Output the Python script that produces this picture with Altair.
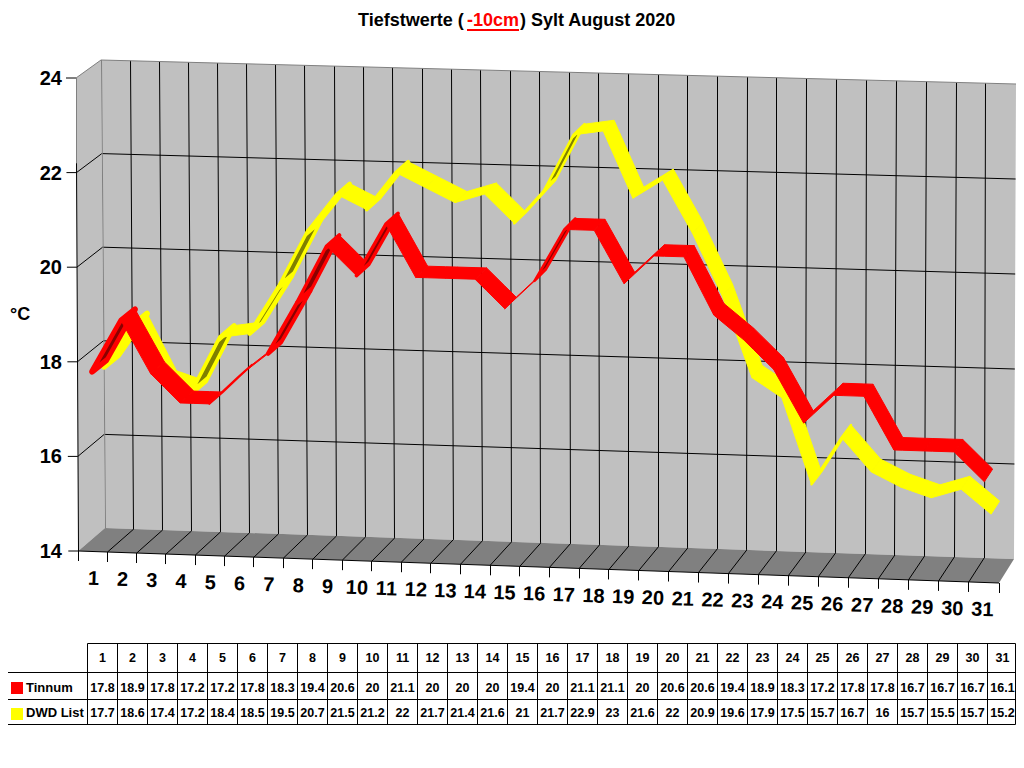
import altair as alt
import pandas as pd
import math

days = list(range(1, 32))
tinnum = [17.8, 18.9, 17.8, 17.2, 17.2, 17.8, 18.3, 19.4, 20.6, 20, 21.1, 20, 20, 20, 19.4, 20,
          21.1, 21.1, 20, 20.6, 20.6, 19.4, 18.9, 18.3, 17.2, 17.8, 17.8, 16.7, 16.7, 16.7, 16.1]
dwd = [17.7, 18.6, 17.4, 17.2, 18.4, 18.5, 19.5, 20.7, 21.5, 21.2, 22, 21.7, 21.4, 21.6, 21, 21.7,
       22.9, 23, 21.6, 22, 20.9, 19.6, 17.9, 17.5, 15.7, 16.7, 16, 15.7, 15.5, 15.7, 15.2]
tinnum_txt = ["17.8", "18.9", "17.8", "17.2", "17.2", "17.8", "18.3", "19.4", "20.6", "20", "21.1", "20", "20", "20",
              "19.4", "20", "21.1", "21.1", "20", "20.6", "20.6", "19.4", "18.9", "18.3", "17.2", "17.8", "17.8",
              "16.7", "16.7", "16.7", "16.1"]
dwd_txt = ["17.7", "18.6", "17.4", "17.2", "18.4", "18.5", "19.5", "20.7", "21.5", "21.2", "22", "21.7", "21.4", "21.6",
           "21", "21.7", "22.9", "23", "21.6", "22", "20.9", "19.6", "17.9", "17.5", "15.7", "16.7", "16", "15.7",
           "15.5", "15.7", "15.2"]
y_ticks = [14, 16, 18, 20, 22, 24]
FONT = "Liberation Sans"

# 3D box corners on the page: (x, y) keyed by (right, top, back)
C = {(0, 0, 0): (78.3, 551), (1, 0, 0): (999, 583), (0, 1, 0): (76, 78), (1, 1, 0): (1001, 103),
     (0, 0, 1): (105, 528), (1, 0, 1): (1014, 559), (0, 1, 1): (101, 60), (1, 1, 1): (1016, 84)}


def proj(u, temp, d):
    s = u / 31
    s = s - 0.0174 * s * (1 - s)
    v = (temp - 14) / 10
    x = y = 0.0
    for (a, b, c), (px, py) in C.items():
        w = (s if a else 1 - s) * (v if b else 1 - v) * (d if c else 1 - d)
        x += w * px
        y += w * py
    return x, y


def hull(pts):
    pts = sorted(set(pts))
    def half(seq):
        out = []
        for p in seq:
            while len(out) > 1 and ((out[-1][0] - out[-2][0]) * (p[1] - out[-2][1])
                                    - (out[-1][1] - out[-2][1]) * (p[0] - out[-2][0])) <= 0:
                out.pop()
            out.append(p)
        return out[:-1]
    return half(pts) + half(pts[::-1])


poly_rows = []
poly_id = [0]


def add_poly(layer, pts, fill, stroke=None, sw=0.0):
    """Turn a convex polygon into vertical sections so an area mark can draw it."""
    pts = hull(pts)
    n = len(pts)
    xs = sorted({p[0] for p in pts})
    poly_id[0] += 1
    for x in xs:
        ys = []
        for i in range(n):
            (x0, y0), (x1, y1) = pts[i], pts[(i + 1) % n]
            if min(x0, x1) <= x <= max(x0, x1):
                if x0 == x1:
                    ys += [y0, y1]
                else:
                    ys.append(y0 + (y1 - y0) * (x - x0) / (x1 - x0))
        poly_rows.append(dict(layer=layer, id=poly_id[0], px=x, py=min(ys), py2=max(ys), fill=fill,
                              stroke=stroke or fill, sw=sw))


add_poly("wall", [proj(0, 14, 1), proj(31, 14, 1), proj(31, 24, 1), proj(0, 24, 1)], "#C0C0C0")
add_poly("wall", [proj(0, 14, 0), proj(0, 14, 1), proj(0, 24, 1), proj(0, 24, 0)], "#C0C0C0")
add_poly("wall", [proj(0, 14, 0), proj(31, 14, 0), proj(31, 14, 1), proj(0, 14, 1)], "#808080")


def ribbon(values, d0, d1, bright, dark):
    for i in range(30):
        u0, u1 = i + 0.5, i + 1.5
        t0, t1 = values[i], values[i + 1]
        a0, b0 = proj(u0, t0, d0), proj(u1, t1, d0)
        a1, b1 = proj(u0, t0, d1), proj(u1, t1, d1)
        sx, sy = b0[0] - a0[0], b0[1] - a0[1]
        ox, oy = a1[0] - a0[0], a1[1] - a0[1]
        cross = sx * oy - sy * ox
        perp = abs(cross) / math.hypot(sx, sy)
        if cross > 0:
            sw = min(max(2.5, 6 - u0 * 0.25), 1 + perp * 1.5)
            add_poly("ribbon", [a0, b0, a1, b1], bright, bright, sw)
            chord = cross / abs(sy)
            target = (t1 - t0 - 0.95) * (26 - u0) * 0.9
            if target > 0.4:
                f = min(1.0, max(target, 1.0) / chord)
                dm = (d0 + d1) / 2
                dh = (d1 - d0) * f / 2
                ua, ub = u0 + 0.12, u1 - 0.12
                ta, tb = t0 + (t1 - t0) * 0.12, t1 - (t1 - t0) * 0.12
                add_poly("ribbon", [proj(ua, ta, dm - dh), proj(ub, tb, dm - dh),
                                    proj(ua, ta, dm + dh), proj(ub, tb, dm + dh)], dark, dark, 0)
        else:
            add_poly("ribbon", [a0, b0, a1, b1], bright, bright, 1)


ribbon(dwd, 0.46, 1.02, "#FFFF00", "#808000")
ribbon(tinnum, 0.0, 0.55, "#FF0000", "#8B0000")

line_rows = []
lid = [0]


def add_line(p0, p1, color="#000000"):
    lid[0] += 1
    line_rows.append(dict(id=lid[0], seq=0, px=p0[0], py=p0[1], color=color))
    line_rows.append(dict(id=lid[0], seq=1, px=p1[0], py=p1[1], color=color))


def sharp(p):
    return (int(p[0]) + 0.5, p[1])


for u in range(1, 31):
    add_line(sharp(proj(u, 14, 1)), sharp(proj(u, 24, 1)))
    add_line(proj(u, 14, 0), proj(u, 14, 1))
for t in y_ticks[1:-1]:
    add_line(proj(0, t, 1), proj(31, t, 1))
    add_line(proj(0, t, 0), proj(0, t, 1))
add_line(proj(0, 14, 0), proj(31, 14, 0))
add_line(sharp(proj(0, 14, 0)), sharp(proj(0, 22.2, 0)))
add_line(sharp(proj(0, 22.2, 0)), sharp(proj(0, 24, 0)), "#808080")
add_line(sharp(proj(0, 14, 1)), sharp(proj(0, 24, 1)), "#808080")
add_line(proj(0, 24, 1), proj(31, 24, 1), "#808080")
add_line(proj(0, 24, 0), proj(0, 24, 1), "#808080")
# axis ticks
for t in y_ticks:
    x, y = proj(0, t, 0)
    add_line((x - 10, y), (x, y))
for u in range(0, 32):
    x, y = sharp(proj(u, 14, 0))
    add_line((x, y), (x, y + 10))

# table geometry
T_L, T_LBL, T_R = 87.5, 7.5, 1017.5
T_Y = [643.5, 672.5, 699.5, 724.5]
col = (T_R - T_L) / 31
T_END = 1015.5
add_line((T_L, T_Y[0]), (T_END, T_Y[0]))
add_line((T_LBL, T_Y[1]), (T_END, T_Y[1]))
add_line((T_LBL, T_Y[2]), (T_END, T_Y[2]))
add_line((T_LBL, T_Y[3]), (T_END, T_Y[3]))
add_line((T_LBL, T_Y[1]), (T_LBL, T_Y[3]))
for i in range(32):
    x = min(int(T_L + col * i) + 0.5, T_END)
    add_line((x, T_Y[0]), (x, T_Y[3]))

big_text = []
for t in y_ticks:
    x, y = proj(0, t, 0)
    big_text.append(dict(px=62, py=y + 1, label=str(t), align="right"))
small_text = []
for i, d in enumerate(days):
    x, y = proj(i + 0.5, 14, 0)
    big_text.append(dict(px=x + 0.5 - 2 * i / 30, py=y + 27.5, label=str(d), align="center"))
    cx = T_L + col * (i + 0.5)
    small_text.append(dict(px=cx, py=658, label=str(d)))
    small_text.append(dict(px=cx, py=687.5, label=tinnum_txt[i]))
    small_text.append(dict(px=cx, py=712.5, label=dwd_txt[i]))

X = alt.X("px:Q", axis=None, scale=alt.Scale(domain=[8, 1016], nice=False, zero=False))
Y = alt.Y("py:Q", axis=None, scale=alt.Scale(domain=[760, 8], nice=False, zero=False))

polys = alt.Chart(pd.DataFrame(poly_rows)).mark_area(strokeJoin="round", opacity=1).encode(
    x=X, y=Y, y2=alt.Y2("py2:Q"), detail="id:N",
    fill=alt.Fill("fill:N", scale=None),
    stroke=alt.Stroke("stroke:N", scale=None),
    strokeWidth=alt.StrokeWidth("sw:Q", scale=None),
)
walls = polys.transform_filter(alt.datum.layer == "wall")
ribbons = polys.transform_filter(alt.datum.layer == "ribbon")

lines = alt.Chart(pd.DataFrame(line_rows)).mark_line(strokeWidth=1).encode(
    x=X, y=Y, detail="id:N", order="seq:Q", color=alt.Color("color:N", scale=None))

big_y = alt.Chart(pd.DataFrame([r for r in big_text if r["align"] == "right"])).mark_text(
    font=FONT, fontWeight="bold", fontSize=20, baseline="middle", align="right").encode(x=X, y=Y, text="label:N")
big_x = alt.Chart(pd.DataFrame([r for r in big_text if r["align"] == "center"])).mark_text(
    font=FONT, fontWeight="bold", fontSize=20, baseline="middle", align="center", angle=2).encode(x=X, y=Y, text="label:N")
small = alt.Chart(pd.DataFrame(small_text)).mark_text(
    font=FONT, fontWeight="bold", fontSize=12.5, baseline="middle", align="center").encode(x=X, y=Y, text="label:N")

free_text = pd.DataFrame([
    dict(px=358, py=21, label="Tiefstwerte (", color="#000000", size=18),
    dict(px=467, py=21, label="-10cm", color="#FF0000", size=18),
    dict(px=520, py=21, label=") Sylt August 2020", color="#000000", size=18),
    dict(px=10, py=315, label="°C", color="#000000", size=18),
    dict(px=26, py=688, label="Tinnum", color="#000000", size=13),
    dict(px=26, py=713, label="DWD List", color="#000000", size=13),
])
texts = alt.Chart(free_text).mark_text(font=FONT, fontWeight="bold", baseline="middle", align="left").encode(
    x=X, y=Y, text="label:N", color=alt.Color("color:N", scale=None), size=alt.Size("size:Q", scale=None))

rects = pd.DataFrame([
    dict(px=467, px2=519, py=29, py2=31, color="#FF0000"),
    dict(px=11, px2=23, py=682, py2=694, color="#FF0000"),
    dict(px=11, px2=23, py=708, py2=720, color="#FFFF00"),
])
rect = alt.Chart(rects).mark_rect(opacity=1).encode(
    x=X, x2="px2:Q", y=Y, y2="py2:Q", color=alt.Color("color:N", scale=None))

chart = alt.layer(walls, lines, ribbons, big_y, big_x, small, texts, rect).properties(
    width=1008, height=752, padding=0, autosize=alt.AutoSizeParams(type="none"),
    background="#FFFFFF",
).configure_view(stroke=None)

chart.save("out.html", embed_options={"renderer": "svg", "actions": False})
